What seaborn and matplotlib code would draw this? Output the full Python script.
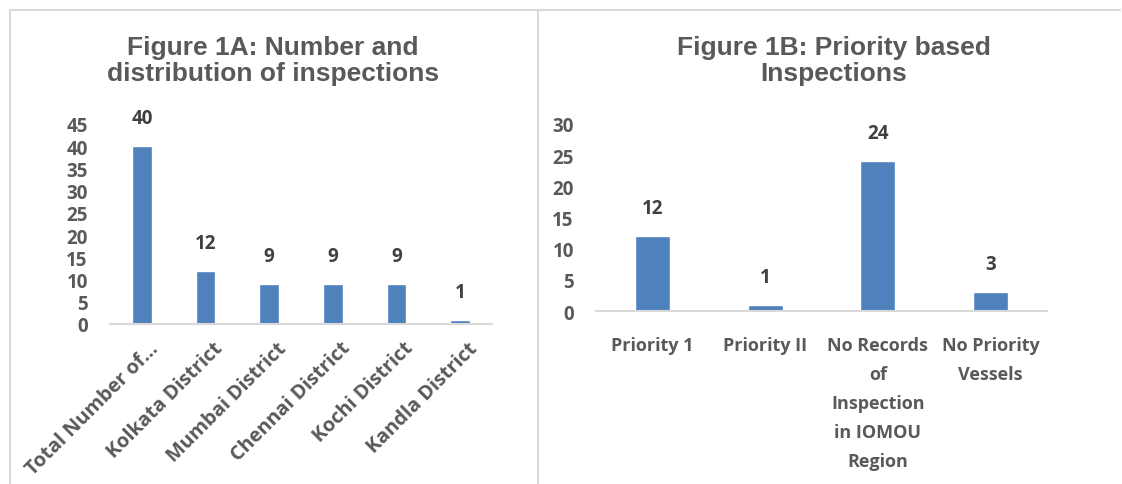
import matplotlib
matplotlib.use("Agg")
import matplotlib.pyplot as plt
import matplotlib.transforms as mtransforms
import seaborn as sns
import pandas as pd
from matplotlib.lines import Line2D

# data
cats_a = ["Total Number of...", "Kolkata District", "Mumbai District",
          "Chennai District", "Kochi District", "Kandla District"]
vals_a = [40, 12, 9, 9, 9, 1]
yticks_a = [0, 5, 10, 15, 20, 25, 30, 35, 40, 45]

cats_b = ["Priority 1", "Priority II", "No Records\nof\nInspection\nin IOMOU\nRegion",
          "No Priority\nVessels"]
vals_b = [12, 1, 24, 3]
yticks_b = [0, 5, 10, 15, 20, 25, 30]

BAR = "#4F81BD"
GREY = "#595959"
DARK = "#404040"
LINE = "#D9D9D9"

sns.set_style("white")
plt.rcParams['font.family'] = ['Open Sans', 'DejaVu Sans']
plt.rcParams['font.weight'] = 'bold'

W, H = 1122, 485
fig = plt.figure(figsize=(W / 100, H / 100), dpi=100)

# panel borders (like the Excel chart frames)
fig.add_artist(Line2D([10 / W, 10 / W], [0, 1 - 11 / H], color=LINE, lw=1.5))
fig.add_artist(Line2D([538 / W, 538 / W], [0, 1 - 11 / H], color=LINE, lw=1.5))
fig.add_artist(Line2D([10 / W, 1120 / W], [1 - 11 / H, 1 - 11 / H], color=LINE, lw=1.5))

ax_a = fig.add_axes([110 / W, (H - 325) / H, 382 / W, 200 / H])
ax_b = fig.add_axes([596 / W, (H - 312) / H, 451 / W, 187 / H])

df_a = pd.DataFrame({"cat": cats_a, "val": vals_a})
df_b = pd.DataFrame({"cat": cats_b, "val": vals_b})

sns.barplot(data=df_a, x="cat", y="val", color=BAR, width=0.31, ax=ax_a, saturation=1)
sns.barplot(data=df_b, x="cat", y="val", color=BAR, width=0.31, ax=ax_b, saturation=1)

FS = 13.5
for ax, ticks in ((ax_a, yticks_a), (ax_b, yticks_b)):
    ax.set_xlabel("")
    ax.set_ylabel("")
    ax.set_ylim(ticks[0], ticks[-1])
    ax.set_yticks(ticks)
    for s in ("top", "right", "left"):
        ax.spines[s].set_visible(False)
    ax.spines["bottom"].set_color(LINE)
    ax.spines["bottom"].set_linewidth(1.5)
    ax.tick_params(axis="both", length=0, colors=GREY, labelsize=FS)
    ax.tick_params(axis="y", pad=16)
    ax.bar_label(ax.containers[0], padding=13, fontsize=FS,
                 fontweight="bold", color=DARK)

ax_a.set_xlim(-0.5, 5.5)
ax_b.set_xlim(-0.5, 3.5)

ax_a.tick_params(axis="x", labelsize=14.3, pad=10)
# Excel hangs the rotated labels a little right of the tick
shift = mtransforms.ScaledTranslation(7 / 100, 0, fig.dpi_scale_trans)
for lbl in ax_a.get_xticklabels():
    lbl.set_rotation(45)
    lbl.set_ha("right")
    lbl.set_va("top")
    lbl.set_rotation_mode("anchor")
    lbl.set_transform(lbl.get_transform() + shift)
ax_b.tick_params(axis="x", labelsize=13, pad=18)
for lbl in ax_b.get_xticklabels():
    lbl.set_linespacing(1.78)
    lbl.set_ha("center")

title_kw = dict(fontsize=19, fontweight="bold", color=GREY, ha="center", va="top",
                family=["Liberation Sans", "DejaVu Sans"], linespacing=1.1)
fig.text(273 / W, 1 - 36 / H, "Figure 1A: Number and\ndistribution of inspections", **title_kw)
fig.text(834 / W, 1 - 36 / H, "Figure 1B: Priority based\nInspections", **title_kw)

fig.savefig("out.png", dpi=100)
plt.close()
